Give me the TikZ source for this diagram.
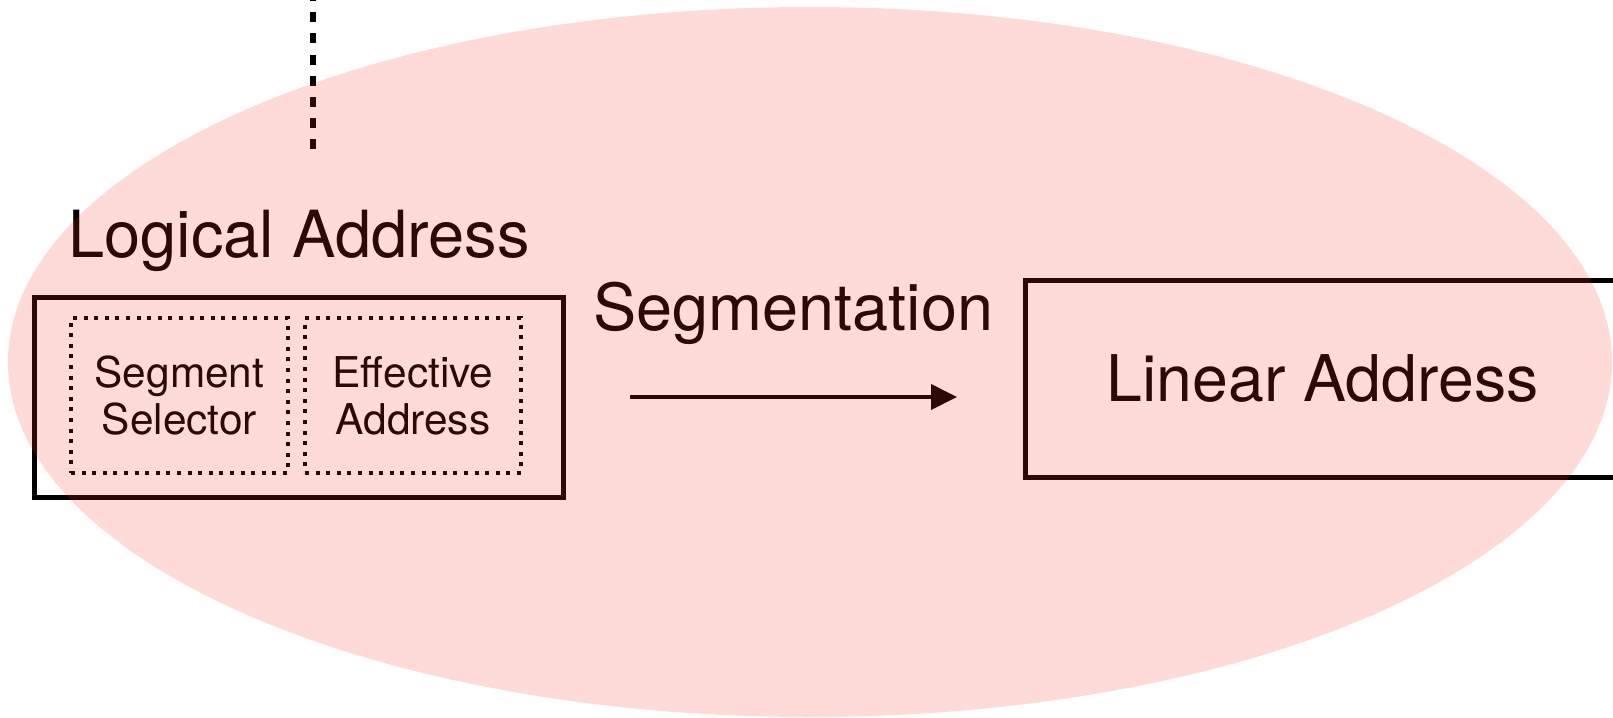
\documentclass[tikz,border=0pt]{standalone}
\usepackage{fontspec}
\setmainfont{TeX Gyre Heros}
\usetikzlibrary{arrows.meta, positioning}
\definecolor{blush}{RGB}{250,55,28}

\tikzset{
	addrbox/.style={draw, line width=2.5pt, inner sep=0pt},
	fieldbox/.style={draw, line width=2pt, dash pattern=on 2pt off 3.3pt, inner sep=0pt, align=center, font=\fontsize{21.2}{23.5}\selectfont},
	bigtext/.style={inner sep=0pt, font=\fontsize{32.5}{38}\selectfont}
}

\begin{document}
\begin{tikzpicture}[x=0.5pt, y=-0.5pt, >={Triangle[length=13pt,width=12.5pt]}]
		\useasboundingbox (0,0) rectangle (1613,718);
		\coordinate (up) at (313,-9); \coordinate (down) at (313,150);
		\draw[line width=3pt, dash pattern=on 5pt off 5.6pt] (up) -- (down);
		
		\node[bigtext, anchor=base west] (title) at (68,257) {Logical Address};
		\node[addrbox, minimum width=264.5pt, minimum height=100pt] (logical) at (298.5,397) {};
		\node[fieldbox, minimum width=108.5pt, minimum height=77.5pt] (sel) at (179.5,395.5) {Segment\\Selector};
		\node[fieldbox, minimum width=108pt, minimum height=77.5pt] (eff) at (413,395.5) {Effective\\Address};
		
		\node[bigtext, anchor=base west, font=\fontsize{32.4}{38}\selectfont] (seg) at (593,330) {Segmentation};
		\coordinate (from) at (630,397); \coordinate (to) at (957,397);
		\draw[->, line width=2pt] (from) -- (to);
		
		\node[addrbox, bigtext, draw, font=\fontsize{32.2}{38}\selectfont, minimum width=297.5pt, minimum height=98.5pt] (linear) at (1322.5,378.5) {Linear Address};
		
		\fill[blush, opacity=0.18] (810,362) ellipse [x radius=401pt, y radius=177.5pt];
	\end{tikzpicture}
\end{document}
